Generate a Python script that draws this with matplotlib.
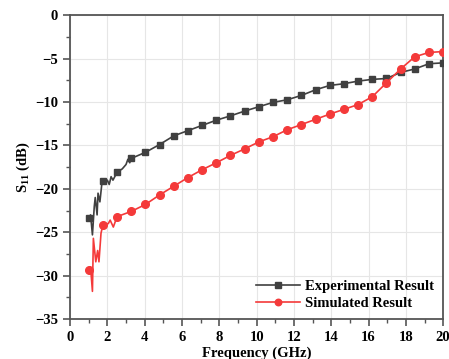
import matplotlib
matplotlib.use("Agg")
import matplotlib.pyplot as plt
from matplotlib.ticker import MultipleLocator

plt.rcParams['font.family'] = ['Liberation Serif', 'DejaVu Serif']
plt.rcParams['font.weight'] = 'bold'
plt.rcParams['mathtext.fontset'] = 'custom'
plt.rcParams['mathtext.rm'] = 'Liberation Serif:bold'
plt.rcParams['mathtext.it'] = 'Liberation Serif:bold'
plt.rcParams['mathtext.bf'] = 'Liberation Serif:bold'

# Marker-grid frequencies (GHz)
freq_marks = [1.0, 1.76, 2.52, 3.28, 4.04, 4.80, 5.56, 6.32, 7.08, 7.84, 8.60, 9.36,
              10.12, 10.88, 11.64, 12.40, 13.16, 13.92, 14.68, 15.44, 16.20, 16.96,
              17.72, 18.48, 19.24, 20.0]
exp_marks = [-23.3, -19.1, -18.1, -16.5, -15.8, -14.9, -13.9, -13.3, -12.7, -12.1, -11.6,
             -11.05, -10.55, -10.05, -9.75, -9.25, -8.6, -8.1, -7.9, -7.6, -7.4, -7.3,
             -6.6, -6.2, -5.6, -5.5]
sim_marks = [-29.4, -24.2, -23.2, -22.6, -21.8, -20.7, -19.7, -18.7, -17.8, -17.0, -16.15,
             -15.4, -14.6, -14.0, -13.2, -12.6, -12.0, -11.4, -10.85, -10.3, -9.4, -7.8,
             -6.2, -4.8, -4.3, -4.2]

# Noisy low-frequency segments (between first marker points)
exp_noise_f = [1.1, 1.2, 1.3, 1.35, 1.45, 1.5, 1.6, 1.7, 1.9, 2.0, 2.1, 2.2, 2.3,
               2.8, 3.0, 3.1, 3.2]
exp_noise_v = [-23.0, -25.3, -22.0, -21.0, -23.0, -20.5, -21.5, -19.5, -19.4, -19.0,
               -19.5, -18.6, -19.0, -17.7, -17.2, -16.6, -17.0]
sim_noise_f = [1.1, 1.2, 1.25, 1.38, 1.48, 1.55, 1.66, 2.05, 2.15, 2.32]
sim_noise_v = [-29.0, -31.8, -25.7, -28.4, -27.1, -28.4, -25.1, -24.0, -23.6, -24.4]

labels = ['Experimental Result', 'Simulated Result']

def merge(fm, vm, fn, vn):
    pts = sorted(list(zip(fm, vm)) + list(zip(fn, vn)))
    f = [p[0] for p in pts]
    v = [p[1] for p in pts]
    idx = [f.index(x) for x in fm]
    return f, v, idx

fig = plt.figure(figsize=(4.49, 3.59), dpi=100)
ax = fig.add_axes([0.156, 0.111, 0.831, 0.847])

ef, ev, eidx = merge(freq_marks, exp_marks, exp_noise_f, exp_noise_v)
sf, sv, sidx = merge(freq_marks, sim_marks, sim_noise_f, sim_noise_v)

ax.plot(ef, ev, color='#404040', lw=1.2, marker='s', ms=4.5, markevery=eidx,
        label=labels[0], zorder=3)
ax.plot(sf, sv, color='#f43a3a', lw=1.2, marker='o', ms=5.5, markevery=sidx,
        label=labels[1], zorder=4)

ax.set_xlim(0, 20)
ax.set_ylim(-35, 0)
ax.xaxis.set_major_locator(MultipleLocator(2))
ax.xaxis.set_minor_locator(MultipleLocator(1))
ax.yaxis.set_major_locator(MultipleLocator(5))
ax.yaxis.set_minor_locator(MultipleLocator(2.5))
ax.grid(True, which='major', color='#e6e6e6', lw=0.8, zorder=0)
ax.set_axisbelow(True)

for s in ax.spines.values():
    s.set_color('#555555')
    s.set_linewidth(1.3)
ax.tick_params(which='major', direction='out', length=5, width=1.2, color='#555555',
               labelsize=10.5, top=False, right=False)
ax.tick_params(which='minor', direction='out', length=3, width=1.0, color='#555555',
               top=False, right=False)
for t in ax.get_xticklabels() + ax.get_yticklabels():
    t.set_fontweight('bold')

ax.set_xlabel('Frequency (GHz)', fontsize=10.5, fontweight='bold', labelpad=2)
ax.set_ylabel(r'S$_{11}$ (dB)', fontsize=10.5, fontweight='bold', labelpad=2)

leg = ax.legend(loc='lower right', frameon=False, fontsize=10.5, handlelength=3,
                borderaxespad=0.2, labelspacing=0.3, handletextpad=0.4, markerscale=0.85)
for t in leg.get_texts():
    t.set_fontweight('bold')

fig.savefig('out.png', dpi=100)
